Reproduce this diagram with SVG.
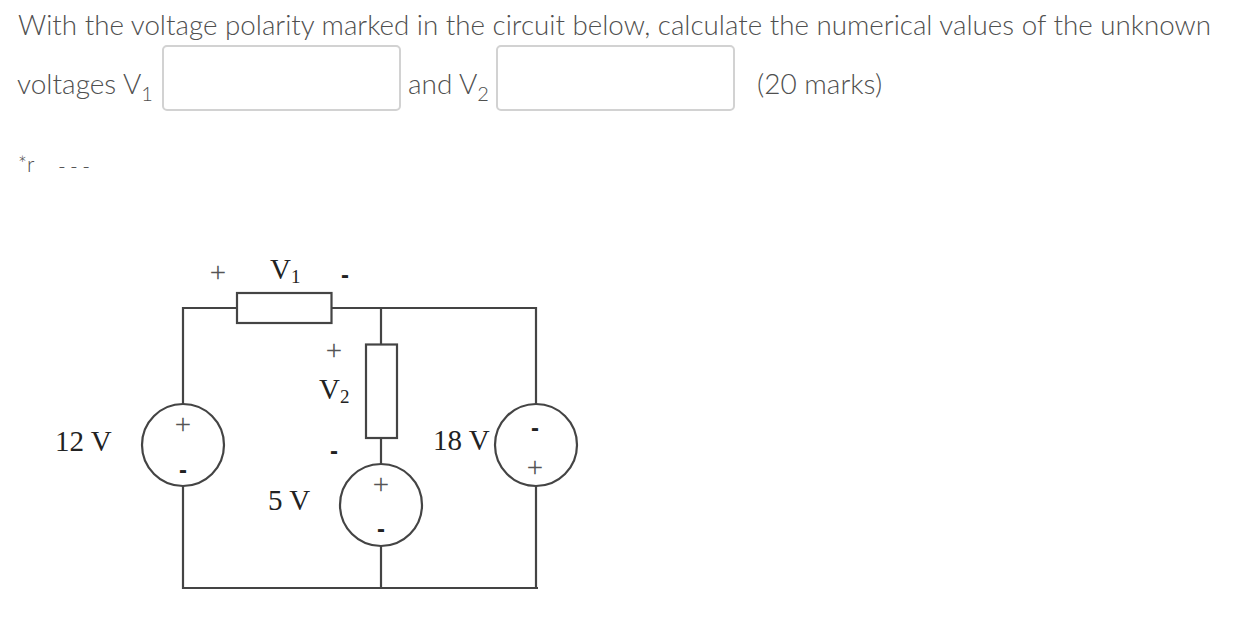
<svg xmlns="http://www.w3.org/2000/svg" width="1247" height="635" viewBox="0 0 1247 635">
<style>
.q{font-family:Lato,"Open Sans","Liberation Sans",sans-serif;font-size:28px;font-weight:300;fill:#4f4f4f}
.s{font-size:20px}
.box{fill:#fff;stroke:#d2d2d2;stroke-width:2}
.w{fill:none;stroke:#444;stroke-width:2.2}
.el{fill:#fff;stroke:#444;stroke-width:2.2}
.t{font-family:"Liberation Serif","Times New Roman",serif;font-size:29px;fill:#222}
.sub{font-size:19px}
.p{font-family:"Liberation Serif",serif;font-size:29px;fill:#555;text-anchor:middle}
.m{font-family:"Liberation Sans",sans-serif;font-weight:bold;font-size:24px;fill:#222;text-anchor:middle}
.c{font-size:21px}
</style>
<rect width="1247" height="635" fill="#fff"/>
<g id="question">
<text class="q" x="18" y="35" textLength="1193" lengthAdjust="spacingAndGlyphs">With the voltage polarity marked in the circuit below, calculate the numerical values of the unknown</text>
<text class="q" x="17" y="94">voltages V<tspan class="s" dy="7">1</tspan></text>
<text class="q" x="408" y="94">and V<tspan class="s" dy="7">2</tspan></text>
<text class="q" x="757" y="94">(20 marks)</text>
<text class="q c" x="18" y="172">*r</text>
<text class="q c" x="58" y="174" textLength="32">- - -</text>
<rect id="input-v1" class="box" x="163" y="46" width="237" height="64" rx="4"/>
<rect id="input-v2" class="box" x="497" y="46" width="237" height="64" rx="4"/>
</g>
<g id="connectors">
<path class="w" d="M237 308H183V404M183 486V588H538M331.500 308H536V404M536 486V588M381 308V344.500M381 438V464M381 546V588"/>
</g>
<g id="R1"><rect class="el" x="237" y="293" width="94.500" height="30"/></g>
<g id="R2"><rect class="el" x="366" y="344.500" width="31" height="93.500"/></g>
<g id="V12">
<circle class="el" cx="183" cy="445" r="41"/>
<text class="p" x="183" y="434">+</text><text class="m" x="183" y="478">-</text>
<text class="t" x="55" y="451">12 V</text>
</g>
<g id="V5">
<circle class="el" cx="381" cy="505" r="41"/>
<text class="p" x="381" y="494">+</text><text class="m" x="381" y="537">-</text>
<text class="t" x="268" y="510">5 V</text>
</g>
<g id="V18">
<circle class="el" cx="536" cy="445" r="41"/>
<text class="m" x="535" y="436">-</text><text class="p" x="535" y="477">+</text>
<text class="t" x="433" y="450">18 V</text>
</g>
<g id="V1-label">
<text class="p" x="218" y="282">+</text>
<text class="t" x="270" y="279">V<tspan class="sub" dy="4">1</tspan></text>
<text class="m" x="345" y="283">-</text>
</g>
<g id="V2-label">
<text class="p" x="334" y="360">+</text>
<text class="t" x="319" y="399">V<tspan class="sub" dy="4">2</tspan></text>
<text class="m" x="334" y="459">-</text>
</g>
</svg>
